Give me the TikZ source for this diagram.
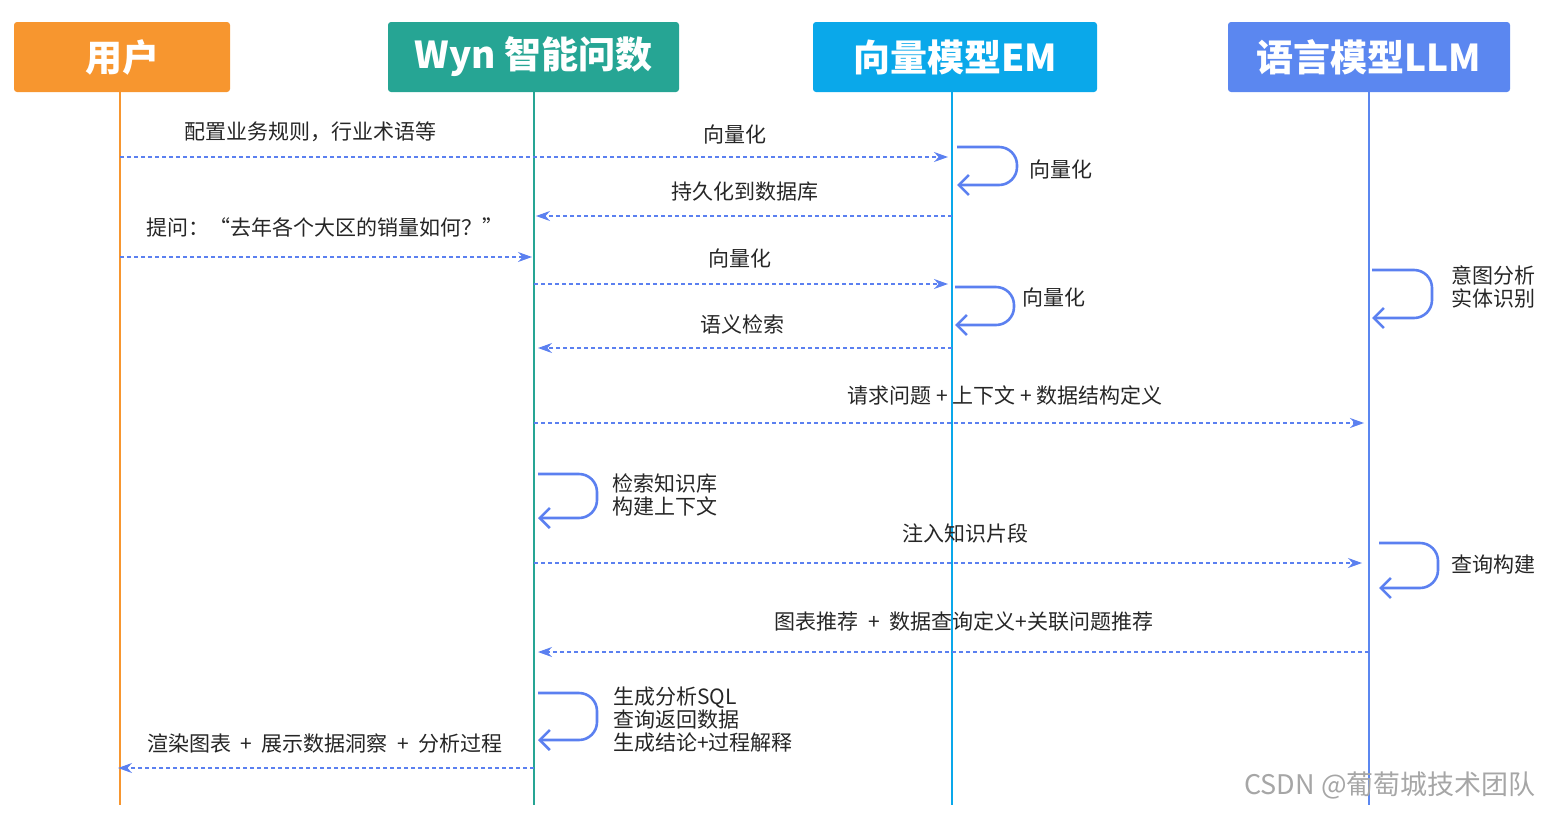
\documentclass[tikz,border=0pt]{standalone}
\usepackage{fontspec}
\setmainfont{Noto Sans CJK SC}
\usetikzlibrary{arrows.meta}
\definecolor{cU}{HTML}{F7962F}
\definecolor{cW}{HTML}{26A594}
\definecolor{cE}{HTML}{0AA8EA}
\definecolor{cL}{HTML}{5B87F0}
\definecolor{cA}{HTML}{5B80F0}
\tikzset{
 head/.style={fill=#1,rounded corners=3pt,text=white,font=\fontsize{37}{39}\selectfont\bfseries,inner sep=0pt},
 life/.style={line width=1.2pt,draw=#1},
 msg/.style={draw=cA,line width=1.2pt,dash pattern=on 4pt off 3pt,-{Stealth[length=14pt,width=10pt]}},
 lbl/.style={font=\fontsize{21}{23}\selectfont,text=black!85,inner sep=1pt},
 selfl/.style={draw=cA,line width=2.6pt,rounded corners=18pt,-{Straight Barb[length=10pt,width=20pt]}},
}
\begin{document}
\begin{tikzpicture}[x=1pt,y=-1pt]
\useasboundingbox (0,0) rectangle (1557,812);
\node[head=cU,minimum width=216pt,minimum height=70pt] (hU) at (122,57) {用户};
\node[head=cW,minimum width=291pt,minimum height=70pt] (hW) at (533.5,57) {Wyn 智能问数};
\node[head=cE,minimum width=284pt,minimum height=70pt] (hE) at (955,57) {向量模型EM};
\node[head=cL,minimum width=282pt,minimum height=70pt] (hL) at (1369,57) {语言模型LLM};
\coordinate (eU) at (120,805); \coordinate (eW) at (534,805);
\coordinate (eE) at (952,805); \coordinate (eL) at (1369,805);
\draw[life=cU] (hU.south -| eU) -- (eU);
\draw[life=cW] (hW.south -| eW) -- (eW);
\draw[life=cE] (hE.south -| eE) -- (eE);
\draw[life=cL] (hL.south -| eL) -- (eL);
% messages
\coordinate (u1) at (120,157); \coordinate (e1) at (948,157);
\draw[msg] (u1) -- (e1);
\node[lbl] (t1) at (310,132) {配置业务规则，行业术语等};
\node[lbl] (t1b) at (735,134) {向量化};
\draw[selfl] (957,147) -- (1017,147) -- (1017,185) -- (957,185);
\node[lbl,anchor=west] (t2) at (1028,169) {向量化};
\coordinate (e3) at (952,216); \coordinate (w3) at (536,216);
\draw[msg] (e3) -- (w3);
\node[lbl] (t3) at (745,192) {持久化到数据库};
\coordinate (u4) at (120,257); \coordinate (w4) at (532,257);
\draw[msg] (u4) -- (w4);
\node[lbl] (t4) at (325,227) {提问：“去年各个大区的销量如何？”};
\coordinate (w5) at (534,284); \coordinate (e5) at (948,284);
\draw[msg] (w5) -- (e5);
\node[lbl] (t5) at (740,258) {向量化};
\draw[selfl] (955,287) -- (1014,287) -- (1014,325) -- (955,325);
\node[lbl,anchor=west] (t6) at (1021,297) {向量化};
\coordinate (e7) at (952,348); \coordinate (w7) at (538,348);
\draw[msg] (e7) -- (w7);
\node[lbl] (t7) at (742,324) {语义检索};
\draw[selfl] (1372,270) -- (1432,270) -- (1432,318) -- (1372,318);
\node[lbl,anchor=west,align=left] (t8) at (1450,287) {意图分析\\实体识别};
\coordinate (w9) at (534,423); \coordinate (l9) at (1364,423);
\draw[msg] (w9) -- (l9);
\node[lbl] (t9) at (1005,395) {请求问题 + 上下文 + 数据结构定义};
\draw[selfl] (538,474) -- (597,474) -- (597,518) -- (538,518);
\node[lbl,anchor=west,align=left] (t10) at (611,495) {检索知识库\\构建上下文};
\coordinate (w11) at (534,563); \coordinate (l11) at (1362,563);
\draw[msg] (w11) -- (l11);
\node[lbl] (t11) at (965,533) {注入知识片段};
\draw[selfl] (1379,543) -- (1438,543) -- (1438,588) -- (1379,588);
\node[lbl,anchor=west] (t12) at (1450,565) {查询构建};
\coordinate (l13) at (1369,652); \coordinate (w13) at (538,652);
\draw[msg] (l13) -- (w13);
\node[lbl] (t13) at (964,622) {图表推荐 \ + \ 数据查询定义+关联问题推荐};
\draw[selfl] (538,693) -- (597,693) -- (597,740) -- (538,740);
\node[lbl,anchor=west,align=left] (t14) at (612,720) {生成分析SQL\\查询返回数据\\生成结论+过程解释};
\coordinate (w15) at (534,768); \coordinate (u15) at (118,768);
\draw[msg] (w15) -- (u15);
\node[lbl] (t15) at (325,743) {渲染图表 \ + \ 展示数据洞察 \ + \ 分析过程};
\node[font=\fontsize{27}{30}\selectfont,text=black!35] (wm) at (1390,785) {CSDN @葡萄城技术团队};
\end{tikzpicture}
\end{document}
